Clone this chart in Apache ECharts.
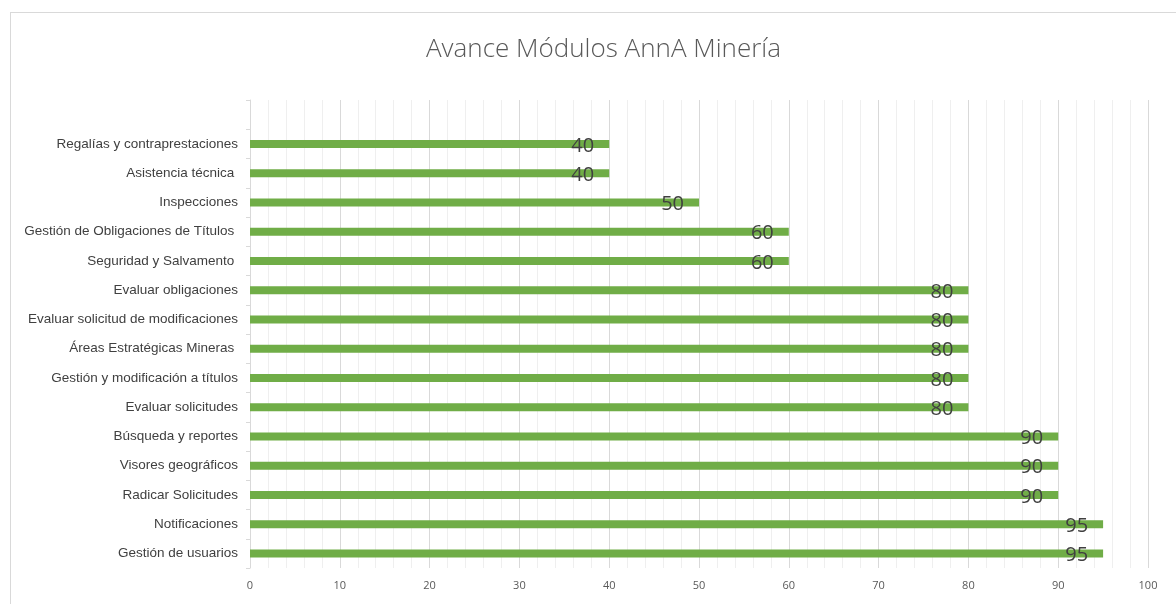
<!DOCTYPE html>
<html lang="es">
<head>
    <meta charset="UTF-8">
    <title>Avance Módulos AnnA Minería</title>
    <style>
        html, body { margin: 0; padding: 0; background: #fff; }
        #wrap {
            position: absolute;
            left: 10px; top: 12px;
            width: 1200px; height: 640px;
            border: 1px solid #d9d9d9;
            box-sizing: border-box;
        }
        #chart {
            position: absolute;
            left: 0; top: 0;
            width: 1176px; height: 604px;
        }
    </style>
</head>
<body>
    <div id="wrap"></div>
    <div id="chart"></div>
    <script src="https://cdn.jsdelivr.net/npm/echarts@6/dist/echarts.min.js"></script>
    <script>
        // módulos de abajo hacia arriba (la primera fila queda abajo), la última es una fila vacía
        var modulos = [
            'Gestión de usuarios',
            'Notificaciones',
            'Radicar Solicitudes',
            'Visores geográficos',
            'Búsqueda y reportes',
            'Evaluar solicitudes',
            'Gestión y modificación a títulos',
            'Áreas Estratégicas Mineras ',
            'Evaluar solicitud de modificaciones',
            'Evaluar obligaciones',
            'Seguridad y Salvamento ',
            'Gestión de Obligaciones de Títulos ',
            'Inspecciones',
            'Asistencia técnica ',
            'Regalías y contraprestaciones',
            ''
        ];
        var avance = [95, 95, 90, 90, 90, 80, 80, 80, 80, 80, 60, 60, 50, 40, 40, '-'];
        var ejeX = [0, 10, 20, 30, 40, 50, 60, 70, 80, 90, 100];

        var chart = echarts.init(document.getElementById('chart'));
        var option = {
            animation: false,
            title: {
                text: 'Avance Módulos AnnA Minería',
                left: 421,
                top: 32,
                textStyle: {
                    fontFamily: 'Open Sans',
                    fontWeight: 300,
                    fontSize: 26,
                    color: '#595959'
                }
            },
            grid: { left: 250, right: 28, top: 100, bottom: 36 },
            xAxis: {
                type: 'value',
                min: ejeX[0],
                max: ejeX[ejeX.length - 1],
                interval: 10,
                axisLine: { show: false },
                axisTick: { show: false },
                axisLabel: {
                    color: '#595959',
                    fontFamily: 'Open Sans',
                    fontSize: 11,
                    margin: 12
                },
                splitLine: { lineStyle: { color: '#d9d9d9', width: 1 } },
                minorTick: { show: false, splitNumber: 5 },
                minorSplitLine: { show: true, lineStyle: { color: '#efefef', width: 1 } }
            },
            yAxis: {
                type: 'category',
                data: modulos,
                axisLine: { lineStyle: { color: '#d9d9d9' } },
                axisTick: { show: true, length: 4, lineStyle: { color: '#d9d9d9' } },
                axisLabel: {
                    color: '#404040',
                    fontFamily: 'Liberation Sans',
                    fontSize: 13.5,
                    margin: 12
                }
            },
            series: [{
                type: 'bar',
                data: avance,
                barWidth: 8,
                itemStyle: { color: '#70ad47' },
                label: {
                    show: true,
                    position: 'insideRight',
                    distance: 15,
                    offset: [0, 2],
                    color: '#404040',
                    fontFamily: 'Open Sans',
                    fontSize: 20
                }
            }]
        };
        chart.setOption(option);
    </script>
</body>
</html>
